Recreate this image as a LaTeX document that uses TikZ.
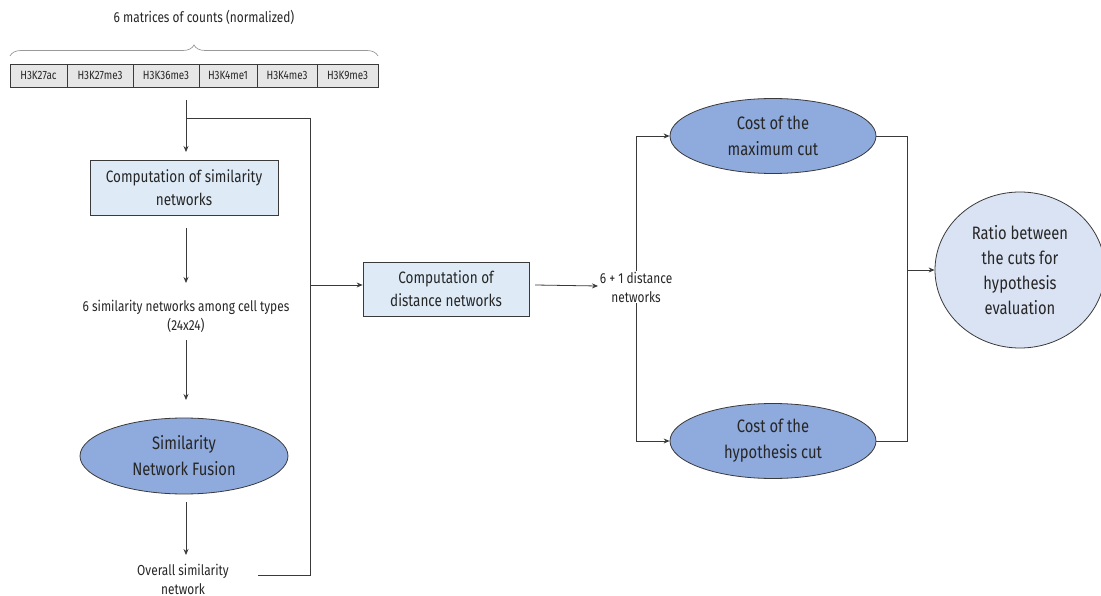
\documentclass[tikz,border=0pt]{standalone}
\usepackage{fontspec}
\setmainfont[FakeStretch=0.82]{Fira Sans}
\usetikzlibrary{arrows.meta,shapes.geometric,decorations.pathreplacing}
\definecolor{boxfill}{HTML}{DEEBF7}
\definecolor{ellfill}{HTML}{8FAADC}
\definecolor{circfill}{HTML}{DAE3F3}
\definecolor{cellfill}{HTML}{E7E6E6}
\definecolor{linec}{HTML}{3A3A3A}
\definecolor{txt}{HTML}{262626}
\tikzset{
  every node/.style={text=txt},
  conn/.style={draw=linec, line width=0.8pt},
  arr/.style={conn, -{Stealth[length=6pt,width=5pt]}},
  cell/.style={draw=linec, fill=cellfill, line width=0.6pt, minimum height=23pt, inner sep=0pt, font=\fontsize{12}{14}\selectfont},
  procbox/.style={draw=linec, fill=boxfill, line width=0.8pt, inner sep=0pt, align=center, font=\fontsize{16.5}{23}\selectfont},
  ell/.style={ellipse, draw=linec, fill=ellfill, line width=0.8pt, inner sep=0pt, align=center, font=\fontsize{18}{26}\selectfont},
  lbl/.style={align=center, inner sep=1pt, font=\fontsize{14.5}{19}\selectfont},
}
\begin{document}
\begin{tikzpicture}[x=1pt,y=-1pt]
\useasboundingbox (0,0) rectangle (1101,596);
% title and brace
\node[font=\fontsize{14.5}{16}\selectfont] (title) at (204,17) {6 matrices of counts (normalized)};
\draw[draw=gray!80, line width=0.7pt, decorate, decoration={brace, amplitude=11pt}] (10,56) -- (378,56);
% cells
\node[cell, minimum width=57pt] (c1) at (38.5,75.5) {H3K27ac};
\node[cell, minimum width=66pt] (c2) at (100,75.5) {H3K27me3};
\node[cell, minimum width=66pt] (c3) at (166,75.5) {H3K36me3};
\node[cell, minimum width=58pt] (c4) at (228,75.5) {H3K4me1};
\node[cell, minimum width=60pt] (c5) at (287,75.5) {H3K4me3};
\node[cell, minimum width=61pt] (c6) at (347.5,75.5) {H3K9me3};
% left column
\coordinate (a0) at (186,100);
\coordinate (a0b) at (186,118);
\node[procbox, minimum width=188pt, minimum height=55pt] (sim) at (184,187.5) {Computation of similarity\\networks};
\node[lbl] (simnets) at (186,316) {6 similarity networks among cell types\\(24x24)};
\node[ell, minimum width=208pt, minimum height=76pt] (snf) at (184,456) {Similarity\\Network Fusion};
\node[lbl, inner sep=0pt] (overall) at (183,579) {Overall similarity\\network};
\draw[arr] (a0) -- (186,152);
\draw[arr] (186,228) -- (186,283);
\draw[arr] (186,340) -- (186,400);
\draw[arr] (186,502) -- (186,555);
% bus at x=310
\coordinate (b1) at (310,118);
\coordinate (b2) at (310,575);
\coordinate (b3) at (310,285);
\coordinate (b4) at (258,575);
\node[procbox, minimum width=166pt, minimum height=54pt] (dist) at (446,289) {Computation of\\distance networks};
\draw[conn] (a0b) -- (b1) -- (b2) -- (b4);
\draw[arr] (b3) -- (dist.west |- b3);
\node[lbl] (dnets) at (636,287) {6 + 1 distance\\networks};
\coordinate (d1) at (535,285);
\coordinate (d2) at (598,286);
\draw[arr] (d1) -- (d2);
% right part
\node[ell, minimum width=206pt, minimum height=75pt] (maxcut) at (773,136) {Cost of the\\maximum cut};
\node[ell, minimum width=206pt, minimum height=75pt] (hypcut) at (773,441) {Cost of the\\hypothesis cut};
\node[ellipse, draw=linec, fill=circfill, line width=0.8pt, inner sep=0pt, align=center, font=\fontsize{18}{25}\selectfont, minimum width=170pt, minimum height=156pt] (ratio) at (1020,270) {Ratio between\\the cuts for\\hypothesis\\evaluation};
\coordinate (r1) at (636,136);
\coordinate (r2) at (636,441);
\coordinate (r3) at (907,136);
\coordinate (r4) at (907,441);
\coordinate (r5) at (907,270);
\draw[conn] (dnets.north) -- (r1);
\draw[arr] (r1) -- (maxcut.west);
\draw[conn] (dnets.south) -- (r2);
\draw[arr] (r2) -- (hypcut.west);
\draw[conn] (maxcut.east) -- (r3) -- (r4) -- (hypcut.east);
\draw[arr] (r5) -- (ratio.west);
\end{tikzpicture}
\end{document}
